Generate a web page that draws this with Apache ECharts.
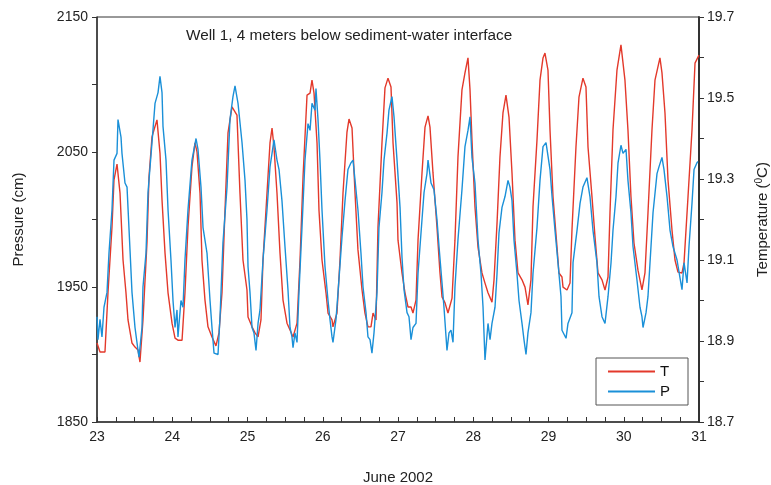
<!DOCTYPE html>
<html>
<head>
<meta charset="utf-8">
<script src="https://cdn.jsdelivr.net/npm/echarts@6/dist/echarts.min.js"></script>
<style>html,body{margin:0;padding:0;background:#fff}#c{width:771px;height:485px}</style>
</head>
<body>
<div id="c"></div>
<script>
// Temperature (T, °C) — time in days of June 2002
var tDays = [23.000,23.040,23.106,23.146,23.199,23.226,23.266,23.306,23.346,23.385,23.412,23.465,23.505,23.545,23.571,23.611,23.664,23.691,23.731,23.757,23.797,23.837,23.864,23.904,23.944,23.997,24.037,24.076,24.130,24.169,24.209,24.262,24.302,24.329,24.369,24.395,24.435,24.475,24.528,24.581,24.621,24.661,24.701,24.741,24.794,24.807,24.860,24.900,24.940,24.993,
25.007,25.060,25.100,25.140,25.179,25.206,25.259,25.299,25.326,25.352,25.392,25.432,25.472,25.525,25.565,25.605,25.658,25.698,25.738,25.791,25.831,25.857,25.884,25.924,25.950,25.990,26.043,26.070,26.123,26.136,26.189,26.229,26.269,26.322,26.349,26.389,26.429,26.468,26.522,26.561,26.601,26.641,26.668,26.708,26.734,26.787,26.827,26.867,26.907,26.934,26.987,
27.000,27.053,27.093,27.133,27.173,27.199,27.239,27.266,27.319,27.359,27.399,27.425,27.465,27.518,27.558,27.585,27.625,27.664,27.718,27.757,27.797,27.850,27.890,27.930,27.957,27.983,28.023,28.063,28.116,28.156,28.196,28.249,28.276,28.316,28.355,28.395,28.435,28.475,28.515,28.555,28.595,28.648,28.688,28.727,28.767,28.794,28.847,28.887,28.927,28.953,
28.993,29.020,29.060,29.113,29.139,29.179,29.193,29.246,29.286,29.312,29.365,29.405,29.458,29.498,29.525,29.578,29.618,29.658,29.711,29.751,29.791,29.817,29.857,29.910,29.963,30.016,30.056,30.096,30.136,30.189,30.242,30.282,30.322,30.375,30.415,30.481,30.508,30.548,30.588,30.641,30.681,30.721,30.774,30.801,30.854,30.907,30.947,31.000];
var tVals = [18.895,18.873,18.873,19.019,19.181,19.298,19.337,19.265,19.100,19.019,18.952,18.895,18.885,18.878,18.848,18.952,19.142,19.305,19.404,19.421,19.446,19.364,19.248,19.117,19.019,18.944,18.907,18.902,18.902,19.019,19.181,19.330,19.389,19.367,19.265,19.100,19.001,18.935,18.910,18.888,18.920,19.019,19.223,19.414,19.478,19.480,19.458,19.265,19.100,19.026,
18.959,18.935,18.920,18.910,18.952,19.100,19.265,19.389,19.426,19.379,19.265,19.117,19.001,18.944,18.927,18.910,18.944,19.100,19.305,19.507,19.512,19.544,19.512,19.389,19.223,19.100,19.019,18.969,18.952,18.935,18.969,19.100,19.265,19.416,19.448,19.426,19.265,19.125,19.026,18.969,18.935,18.935,18.969,18.952,19.181,19.389,19.525,19.549,19.527,19.389,19.241,
19.149,19.068,19.019,18.984,18.984,18.969,19.001,19.149,19.315,19.428,19.456,19.428,19.315,19.181,19.068,19.009,18.994,18.969,19.006,19.149,19.354,19.520,19.562,19.599,19.520,19.396,19.231,19.132,19.068,19.043,19.019,18.996,19.051,19.191,19.354,19.463,19.507,19.453,19.315,19.149,19.068,19.051,19.033,18.989,19.051,19.231,19.396,19.544,19.599,19.611,
19.569,19.421,19.256,19.132,19.068,19.058,19.033,19.026,19.043,19.174,19.379,19.502,19.549,19.527,19.379,19.256,19.157,19.068,19.051,19.026,19.058,19.216,19.421,19.569,19.631,19.544,19.421,19.256,19.142,19.075,19.026,19.068,19.216,19.421,19.544,19.599,19.562,19.463,19.298,19.174,19.100,19.070,19.068,19.093,19.256,19.421,19.586,19.606];

// Pressure (P, cm)
var pDays = [23.000,23.013,23.040,23.066,23.093,23.133,23.159,23.199,23.226,23.266,23.279,23.293,23.319,23.332,23.372,23.399,23.439,23.465,23.505,23.545,23.558,23.598,23.611,23.651,23.678,23.731,23.771,23.811,23.837,23.864,23.877,23.917,23.944,23.983,24.010,24.037,24.063,24.076,24.116,24.143,24.169,24.209,24.262,24.316,24.342,24.382,24.409,24.462,24.502,24.528,24.555,24.608,24.635,24.674,24.728,24.767,24.807,24.834,24.874,24.927,24.967,24.993,
25.007,25.033,25.060,25.086,25.113,25.140,25.166,25.206,25.259,25.299,25.326,25.352,25.392,25.419,25.458,25.498,25.538,25.565,25.591,25.605,25.631,25.658,25.684,25.724,25.764,25.804,25.831,25.857,25.897,25.910,25.937,25.963,25.990,26.030,26.070,26.096,26.123,26.136,26.176,26.203,26.256,26.296,26.335,26.375,26.402,26.429,26.468,26.508,26.535,26.575,26.601,26.628,26.654,26.681,26.721,26.747,26.787,26.814,26.854,26.880,26.920,26.947,26.987,
27.027,27.053,27.080,27.120,27.146,27.173,27.199,27.239,27.266,27.319,27.346,27.385,27.399,27.439,27.478,27.518,27.545,27.585,27.611,27.651,27.678,27.704,27.731,27.757,27.797,27.850,27.890,27.930,27.957,27.983,28.023,28.063,28.103,28.130,28.156,28.196,28.223,28.249,28.289,28.316,28.342,28.382,28.422,28.462,28.488,28.515,28.541,28.581,28.608,28.648,28.674,28.701,28.727,28.767,28.794,28.847,28.887,28.927,28.967,
28.993,29.020,29.047,29.086,29.126,29.166,29.179,29.233,29.259,29.312,29.326,29.379,29.419,29.458,29.511,29.551,29.591,29.644,29.671,29.711,29.751,29.791,29.831,29.857,29.897,29.924,29.963,29.990,30.030,30.056,30.096,30.123,30.176,30.216,30.242,30.256,30.296,30.322,30.362,30.389,30.442,30.468,30.508,30.535,30.575,30.615,30.654,30.708,30.747,30.774,30.801,30.841,30.867,30.907,30.934,30.973,30.987];
var pVals = [1928,1911,1926,1913,1935,1946,1975,2007,2044,2049,2074,2074,2061,2049,2027,2024,1977,1946,1920,1903,1898,1920,1950,1975,2020,2057,2086,2094,2106,2094,2069,2044,2007,1970,1940,1920,1933,1913,1940,1935,1970,2007,2044,2060,2052,2024,1994,1975,1940,1920,1901,1900,1928,1983,2024,2074,2091,2099,2086,2057,2029,2000,
1965,1946,1920,1916,1903,1923,1933,1970,2007,2039,2049,2059,2044,2037,2014,1980,1948,1920,1913,1905,1916,1909,1946,1994,2044,2071,2066,2086,2081,2097,2074,2044,2007,1965,1940,1926,1913,1909,1926,1946,1987,2014,2037,2042,2044,2029,2007,1975,1950,1931,1913,1911,1901,1916,1946,1994,2020,2044,2064,2081,2091,2076,2044,
2009,1972,1948,1931,1928,1911,1920,1923,1960,2000,2020,2034,2044,2027,2022,2000,1980,1953,1935,1903,1916,1918,1909,1950,1985,2022,2054,2066,2076,2046,2027,1985,1960,1935,1896,1923,1911,1923,1935,1960,1990,2009,2017,2029,2024,2014,1985,1960,1940,1923,1911,1900,1916,1931,1960,1994,2029,2054,2057,
2057,2037,2017,1992,1968,1943,1918,1912,1923,1931,1968,1992,2012,2024,2031,2017,1992,1968,1943,1928,1923,1943,1968,1992,2017,2042,2055,2049,2052,2029,2005,1980,1955,1935,1928,1920,1931,1943,1980,2005,2034,2039,2046,2037,2017,1992,1980,1970,1957,1948,1968,1953,1980,2012,2037,2042,2043];

var titleText = 'Well 1, 4 meters below sediment-water interface';
var seriesNames = ['T', 'P'];

function zip(a, b) { var o = []; for (var i = 0; i < Math.min(a.length, b.length); i++) o.push([a[i], b[i]]); return o; }

var FONT = '"Liberation Sans", Arial, Helvetica, sans-serif';
var AX = '#333';
var chart = echarts.init(document.getElementById('c'), null, {renderer: 'canvas'});
chart.setOption({
  animation: false,
  backgroundColor: '#fff',
  textStyle: {fontFamily: FONT},
  title: {
    text: titleText, left: 181, top: 23,
    textStyle: {fontFamily: FONT, fontSize: 15.3, fontWeight: 'normal', color: '#222'}
  },
  grid: {left: 97, right: 72, top: 17, bottom: 63, outerBoundsMode: 'none', containLabel: false,
    show: true, borderColor: AX, borderWidth: 1, backgroundColor: 'transparent'},
  legend: {
    data: seriesNames, orient: 'vertical', left: 596, top: 358,
    icon: 'rect', itemWidth: 47, itemHeight: 2, itemGap: 5,
    padding: [6, 18, 6, 12], borderColor: '#555', borderWidth: 1,
    textStyle: {fontFamily: FONT, fontSize: 15, color: '#111', padding: [0, 0, 0, 0]}
  },
  xAxis: {
    type: 'value', min: 23, max: 31, interval: 1,
    name: 'June 2002', nameLocation: 'middle', nameGap: 48,
    nameTextStyle: {fontFamily: FONT, fontSize: 15, color: '#222'},
    axisLine: {show: true, lineStyle: {color: AX, width: 1.5}},
    axisTick: {show: true, inside: true, length: 5, lineStyle: {color: AX}},
    minorTick: {show: true, splitNumber: 4, length: 5, lineStyle: {color: AX}},
    splitLine: {show: false},
    axisLabel: {fontFamily: FONT, fontSize: 14, color: '#222', margin: 8,
      formatter: function (v) { return String(Math.round(v)); }}
  },
  yAxis: [{
    type: 'value', position: 'left', min: 1850, max: 2150, interval: 100,
    name: 'Pressure (cm)', nameLocation: 'middle', nameGap: 71, nameRotate: 90,
    nameTextStyle: {fontFamily: FONT, fontSize: 15, color: '#222'},
    axisLine: {show: true, lineStyle: {color: AX, width: 1.5}},
    axisTick: {show: true, inside: false, length: 5, lineStyle: {color: AX}},
    minorTick: {show: true, splitNumber: 2, length: 5, lineStyle: {color: AX}},
    splitLine: {show: false},
    axisLabel: {fontFamily: FONT, fontSize: 14, color: '#222', margin: 9,
      formatter: function (v) { return String(Math.round(v)); }}
  }, {
    type: 'value', position: 'right', min: 18.7, max: 19.7, interval: 0.2,
    name: 'Temperature ({sup|0}C)', nameLocation: 'middle', nameGap: 55, nameRotate: 90,
    nameTextStyle: {fontFamily: FONT, fontSize: 15, color: '#222',
      rich: {sup: {fontFamily: FONT, fontSize: 10, color: '#222', padding: [0, 0, 7, 0]}}},
    axisLine: {show: true, lineStyle: {color: AX, width: 2}},
    axisTick: {show: true, inside: false, length: 5, lineStyle: {color: AX}},
    minorTick: {show: true, splitNumber: 2, length: 5, lineStyle: {color: AX}},
    splitLine: {show: false},
    axisLabel: {fontFamily: FONT, fontSize: 14, color: '#222', margin: 8,
      formatter: function (v) { return v.toFixed(1); }}
  }],
  series: [{
    name: 'T', type: 'line', yAxisIndex: 1, data: zip(tDays, tVals),
    showSymbol: false, symbol: 'none', color: '#e3392b',
    lineStyle: {color: '#e3392b', width: 1.4}, z: 2
  }, {
    name: 'P', type: 'line', yAxisIndex: 0, data: zip(pDays, pVals),
    showSymbol: false, symbol: 'none', color: '#1a90d8',
    lineStyle: {color: '#1a90d8', width: 1.4}, z: 3
  }]
});
</script>
</body>
</html>
